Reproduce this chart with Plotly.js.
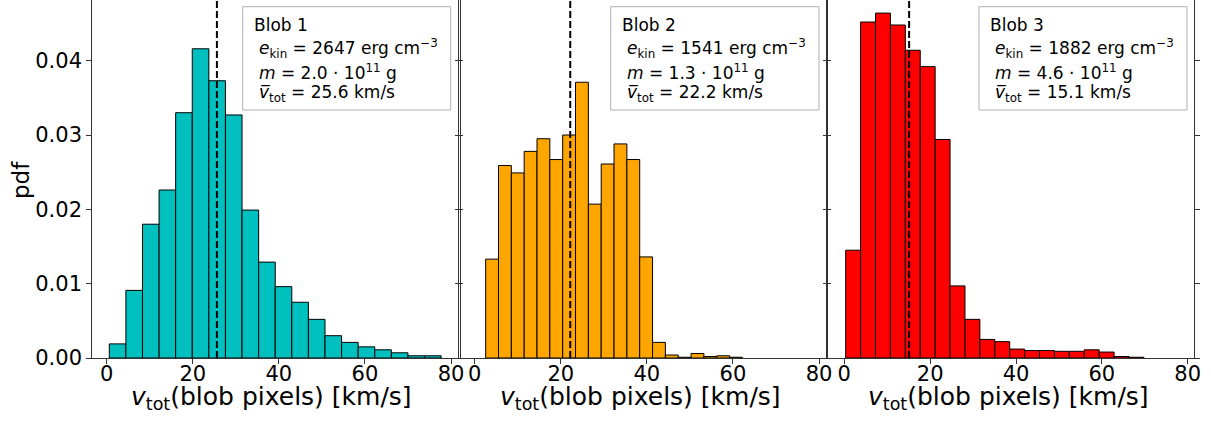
<!DOCTYPE html>
<html>
<head>
<meta charset="utf-8">
<script src="https://cdn.plot.ly/plotly-3.0.1.min.js"></script>
<style>html,body{margin:0;padding:0;background:#fff;}#chart{width:1211px;height:422px;}</style>
</head>
<body>
<div id="chart"></div>
<script>
// ---- data ----
const blobNames = ["Blob 1", "Blob 2", "Blob 3"];
const binLo = [0.6, 2.55, 0.32];
const binHi = [77.7, 62.2, 69.8];
const pdf1 = [0.0019, 0.0091, 0.0180, 0.0226, 0.0330, 0.0416, 0.0373, 0.0327, 0.0199, 0.0129,
              0.0096, 0.0075, 0.0052, 0.0030, 0.0021, 0.0015, 0.0011, 0.0007, 0.0003, 0.0003];
const pdf2 = [0.0133, 0.0259, 0.0249, 0.0278, 0.0295, 0.0267, 0.0300, 0.0371, 0.0207, 0.0261,
              0.0288, 0.0267, 0.0136, 0.0021, 0.0004, 0.0001, 0.0006, 0.0002, 0.0003, 0.0001];
const pdf3 = [0.0145, 0.0452, 0.0464, 0.0448, 0.0414, 0.0392, 0.0294, 0.0097, 0.0052, 0.0025,
              0.0022, 0.0012, 0.0010, 0.0010, 0.0009, 0.0009, 0.0011, 0.0008, 0.0002, 0.0001];
const meanV = [25.6, 22.2, 15.1];
const eKin = ["2647", "1541", "1882"];
const mass = ["2.0", "1.3", "4.6"];
const xTicks = [0, 20, 40, 60, 80];
const yTicks = [0.00, 0.01, 0.02, 0.03, 0.04];

// ---- layout / style ----
const W = 1211, H = 422, MB = 64, PH = H - MB;
const colors = ["#00BFBF", "#FFA500", "#FF0000"];
const domPx = [[91.7, 457.7], [460.7, 825.7], [828.3, 1194.3]];
const xRanges = [[-3.49, 81.55], [-3.25, 81.55], [-3.73, 81.54]];
const boxPx = [[242.7, 450.7], [610.7, 819], [979, 1187]];
const FONT = "DejaVu Sans, sans-serif";
const pdfs = [pdf1, pdf2, pdf3];

const px2x = p => p / W;
const px2y = p => (PH - p) / PH;

const traces = [];
const shapes = [];
const annotations = [];
const layout = {
  width: W, height: H,
  margin: {l: 0, r: 0, t: 0, b: MB, pad: 0},
  paper_bgcolor: "#fff", plot_bgcolor: "#fff",
  showlegend: false,
  barmode: "overlay",
  font: {family: FONT, color: "#000", size: 21},
};

for (let k = 0; k < 3; k++) {
  const n = pdfs[k].length;
  const w = (binHi[k] - binLo[k]) / n;
  const xs = pdfs[k].map((_, i) => binLo[k] + (i + 0.5) * w);
  const sfx = k === 0 ? "" : String(k + 1);
  traces.push({
    type: "bar", x: xs, y: pdfs[k], width: w,
    xaxis: "x" + sfx, yaxis: "y" + sfx,
    marker: {color: colors[k], line: {color: "#000", width: 1}},
    hoverinfo: "skip",
  });
  layout["xaxis" + sfx] = {
    domain: [px2x(domPx[k][0]), px2x(domPx[k][1])],
    range: xRanges[k], anchor: "y" + sfx,
    tickvals: xTicks, ticktext: xTicks.map(String),
    ticks: "outside", ticklen: 4.5, tickwidth: 1, tickcolor: "#333",
    ticklabelstandoff: -8,
    showline: true, linecolor: "#333", linewidth: 1, mirror: true,
    showgrid: false, zeroline: false,
    tickfont: {family: FONT, size: 21, color: "#000"},
  };
  layout["yaxis" + sfx] = {
    domain: [0, 1], range: [0, PH / 7433], anchor: "x" + sfx,
    tickvals: yTicks, ticktext: yTicks.map(v => v.toFixed(2)),
    showticklabels: k === 0,
    ticks: "outside", ticklen: 4.5, tickwidth: 1, tickcolor: "#333",
    showline: true, linecolor: "#333", linewidth: 1, mirror: "ticks",
    showgrid: false, zeroline: false,
    tickfont: {family: FONT, size: 21, color: "#000"},
  };
  if (k > 0) layout["yaxis" + sfx].matches = "y";

  // mean line
  shapes.push({
    type: "line", xref: "x" + sfx, yref: "paper",
    x0: meanV[k], x1: meanV[k], y0: 0, y1: 1,
    line: {color: "#000", width: 2, dash: "7px,3px"},
  });
  // text box
  shapes.push({
    type: "rect", xref: "paper", yref: "paper",
    x0: px2x(boxPx[k][0]), x1: px2x(boxPx[k][1]),
    y0: px2y(110), y1: px2y(6.7),
    line: {color: "#b0b0b0", width: 1}, fillcolor: "rgba(255,255,255,0.8)",
  });
  const lines = [
    blobNames[k],
    "<i>e</i><sub>kin</sub> = " + eKin[k] + " erg cm<sup>−3</sup>",
    "<i>m</i> = " + mass[k] + " · 10<sup>11</sup> g",
    "<i>v\u0305</i><sub>tot</sub> = " + meanV[k].toFixed(1) + " km/s",
  ];
  const ys = [24.8, 48.8, 71.5, 93.5];
  const offs = [9, 14, 14, 14];
  lines.forEach((t, i) => {
    annotations.push({
      xref: "paper", yref: "paper",
      x: px2x(boxPx[k][0] + offs[i]), y: px2y(ys[i]),
      xanchor: "left", yanchor: "middle", showarrow: false,
      text: t, font: {family: FONT, size: 17, color: "#000"},
    });
  });
  // x axis title
  annotations.push({
    xref: "paper", yref: "paper",
    x: px2x((domPx[k][0] + domPx[k][1]) / 2 - 3), y: px2y(398),
    xanchor: "center", yanchor: "middle", showarrow: false,
    text: "<i>v</i><sub>tot</sub>(blob pixels) [km/s]",
    font: {family: FONT, size: 25, color: "#000"},
  });
}
annotations.push({
  xref: "paper", yref: "paper", x: px2x(21), y: px2y(180),
  xanchor: "center", yanchor: "middle", showarrow: false, textangle: -90,
  text: "pdf", font: {family: FONT, size: 23, color: "#000"},
});
layout.shapes = shapes;
layout.annotations = annotations;

Plotly.newPlot("chart", traces, layout, {staticPlot: true, displayModeBar: false});
</script>
</body>
</html>
